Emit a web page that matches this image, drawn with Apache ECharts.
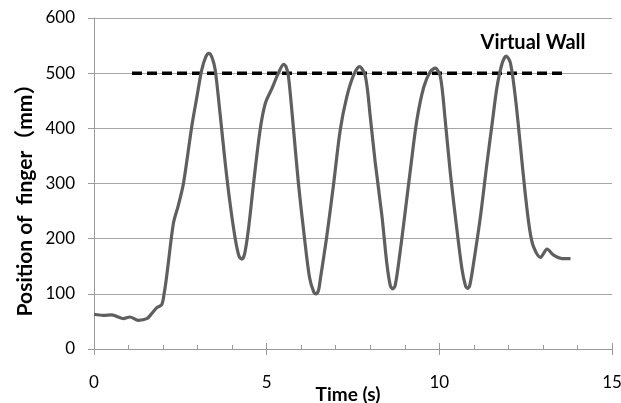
<!DOCTYPE html>
<html>
<head>
<meta charset="utf-8">
<script src="https://cdn.jsdelivr.net/npm/echarts@6/dist/echarts.min.js"></script>
<style>
  html, body { margin: 0; padding: 0; background: #fff; }
  #chart { width: 621px; height: 403px; }
</style>
</head>
<body>
<div id="chart"></div>
<script>
// finger position (time in s, position in mm)
var timeS = [0, 0.27, 0.51, 0.66, 0.85, 1.04, 1.28, 1.53, 1.67, 1.82, 1.96, 2.03, 2.09, 2.15, 2.30, 2.44, 2.59, 2.83, 2.98, 3.12, 3.24, 3.33, 3.42, 3.51, 3.65, 3.80, 3.94, 4.09, 4.20, 4.28, 4.36, 4.47, 4.62, 4.81, 4.96, 5.15, 5.34, 5.49, 5.56, 5.63, 5.78, 5.92, 6.09, 6.24, 6.36, 6.43, 6.50, 6.55, 6.74, 6.94, 7.13, 7.32, 7.52, 7.69, 7.86, 8.00, 8.14, 8.34, 8.48, 8.58, 8.65, 8.72, 8.82, 8.97, 9.16, 9.35, 9.55, 9.74, 9.88, 10.03, 10.17, 10.32, 10.51, 10.66, 10.76, 10.82, 10.88, 10.99, 11.19, 11.38, 11.53, 11.67, 11.82, 11.94, 12.06, 12.20, 12.35, 12.49, 12.62, 12.73, 12.93, 13.12, 13.31, 13.55, 13.80];
var positionMm = [63, 61, 62, 59, 55, 58, 52, 55, 64, 75, 80, 100, 125, 155, 228, 260, 300, 403, 457, 506, 530, 536, 528, 506, 427, 337, 264, 200, 168, 163, 172, 216, 300, 397, 445, 472, 500, 516, 512, 495, 397, 300, 204, 130, 104, 100, 106, 125, 204, 300, 397, 457, 497, 512, 494, 421, 340, 240, 155, 115, 109, 115, 155, 228, 324, 415, 475, 503, 509, 494, 415, 318, 216, 143, 114, 110, 115, 155, 240, 337, 409, 475, 518, 531, 518, 457, 367, 280, 215, 185, 166, 181, 170, 164, 164];

var wallTime = [1.1, 13.6];
var wallMm = [500, 500];

var xTicks = [0, 15, 5];     // min, max, interval
var yTicks = [0, 600, 100];

var fontMain = 'Lato, "Noto Sans CJK SC", sans-serif';

var fingerData = [];
for (var i = 0; i < timeS.length; i++) {
    fingerData.push([timeS[i], positionMm[i]]);
}
var wallData = [];
for (var j = 0; j < wallTime.length; j++) {
    wallData.push([wallTime[j], wallMm[j]]);
}

var chart = echarts.init(document.getElementById('chart'));

var option = {
    animation: false,
    grid: { left: 94, right: 9, top: 18, bottom: 54, outerBoundsMode: 'none', containLabel: false },
    xAxis: [
        {
            type: 'value',
            min: xTicks[0], max: xTicks[1], interval: xTicks[2],
            axisLine: { show: true, lineStyle: { color: '#9a9a9a', width: 1 } },
            axisTick: { show: true, inside: true, length: 6, lineStyle: { color: '#9a9a9a' } },
            minorTick: { show: true, splitNumber: 5, length: 4, lineStyle: { color: '#9a9a9a' } },
            splitLine: { show: false },
            axisLabel: { color: '#000', fontSize: 17, fontFamily: fontMain, margin: 25 }
        },
        {
            type: 'value',
            position: 'bottom',
            min: xTicks[0], max: xTicks[1], interval: xTicks[2],
            axisLine: { show: false },
            axisTick: { show: true, length: 6, lineStyle: { color: '#9a9a9a' } },
            splitLine: { show: false },
            axisLabel: { show: false }
        }
    ],
    yAxis: {
        type: 'value',
        min: yTicks[0], max: yTicks[1], interval: yTicks[2],
        axisLine: { show: true, lineStyle: { color: '#9a9a9a', width: 1 } },
        axisTick: { show: true, length: 6, lineStyle: { color: '#9a9a9a' } },
        splitLine: { show: true, lineStyle: { color: '#a6a6a6', width: 1 } },
        axisLabel: { color: '#000', fontSize: 17, fontFamily: fontMain, margin: 19 }
    },
    graphic: [
        {
            type: 'text',
            x: 25, y: 195,
            rotation: Math.PI / 2,
            style: {
                text: 'Position of  finger（mm）',
                font: 'bold 21px ' + fontMain,
                fill: '#000',
                align: 'center',
                verticalAlign: 'middle'
            }
        },
        {
            type: 'text',
            x: 348, y: 395,
            style: {
                text: 'Time (s)',
                font: 'bold 19px ' + fontMain,
                fill: '#000',
                align: 'center',
                verticalAlign: 'middle'
            }
        },
        {
            type: 'text',
            x: 533, y: 43,
            style: {
                text: 'Virtual Wall',
                font: 'bold 20px ' + fontMain,
                fill: '#000',
                align: 'center',
                verticalAlign: 'middle'
            }
        }
    ],
    series: [
        {
            type: 'line',
            data: wallData,
            symbol: 'none',
            lineStyle: { color: '#000', width: 3.5, type: [10, 5] },
            z: 3
        },
        {
            type: 'line',
            data: fingerData,
            symbol: 'none',
            smooth: 0.3,
            lineStyle: { color: '#5f5f5f', width: 3.2 },
            z: 4
        }
    ]
};

chart.setOption(option);
</script>
</body>
</html>
